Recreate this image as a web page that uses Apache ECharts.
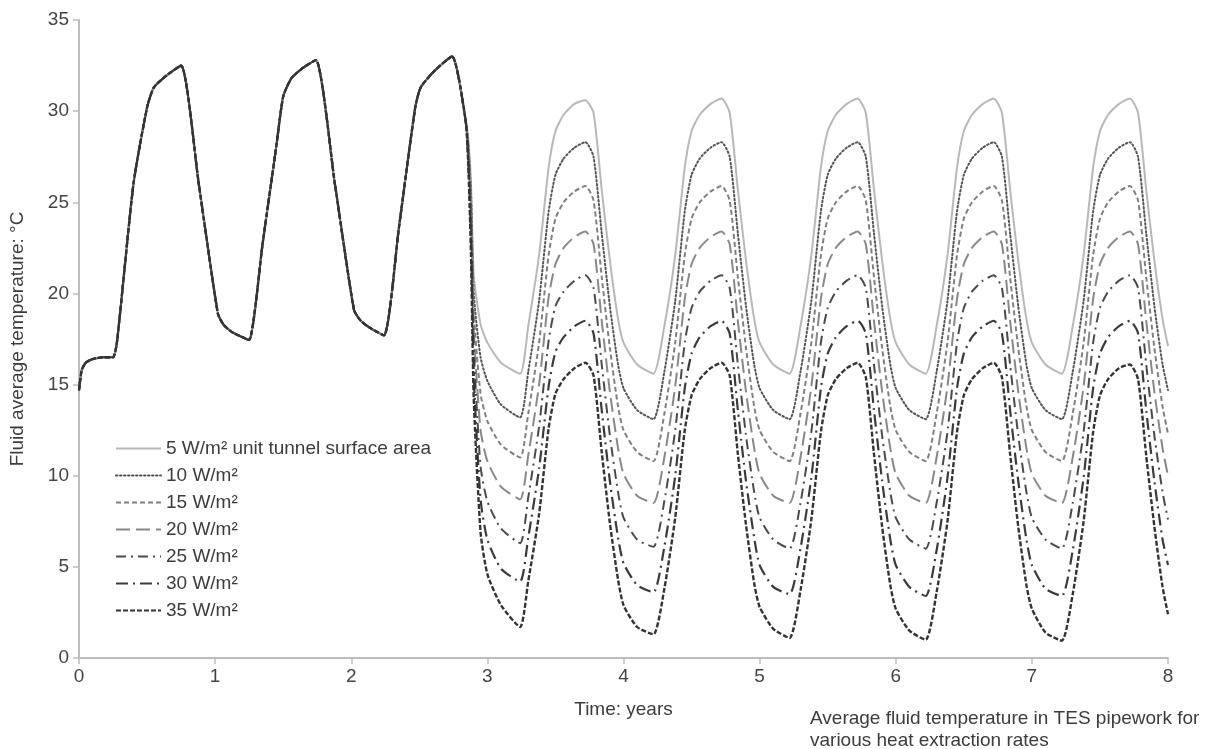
<!DOCTYPE html>
<html>
<head>
<meta charset="utf-8">
<title>Average fluid temperature in TES pipework</title>
<script src="https://cdn.jsdelivr.net/npm/echarts@6/dist/echarts.min.js"></script>
<style>
    html, body { margin: 0; padding: 0; background: #ffffff; }
    #chart { width: 1212px; height: 749px; }
</style>
</head>
<body>
<div id="chart"></div>
<script>
// 前三年所有曲线重合
const sharedYears = [0, 0.02, 0.05, 0.1, 0.18, 0.25, 0.28, 0.4, 0.5, 0.55, 0.65, 0.75, 0.88, 1.02, 1.06, 1.12, 1.2, 1.25,
    1.35, 1.45, 1.5, 1.56, 1.65, 1.74, 1.88, 2.02, 2.07, 2.14, 2.24, 2.35, 2.47, 2.51, 2.61, 2.74, 2.84];
const sharedTemps = [14.7, 15.8, 16.2, 16.4, 16.5, 16.5, 17.4, 26.0, 30.2, 31.3, 32.0, 32.5, 26.0, 18.9, 18.3, 17.9, 17.6, 17.45,
    22.8, 28.1, 30.8, 31.8, 32.4, 32.8, 26.0, 19.1, 18.5, 18.1, 17.7, 23.6, 30.2, 31.3, 32.2, 33.0, 29.5];

// 分叉之后的时间点
const tailYears = [2.86, 2.88, 2.9, 2.95, 3.0, 3.1, 3.24,
    3.3, 3.38, 3.45, 3.5, 3.56, 3.64, 3.72, 3.78, 3.84, 3.9, 3.96, 4.0, 4.1, 4.22,
    4.3, 4.38, 4.45, 4.5, 4.56, 4.64, 4.72, 4.78, 4.84, 4.9, 4.96, 5.0, 5.1, 5.22,
    5.3, 5.38, 5.45, 5.5, 5.56, 5.64, 5.72, 5.78, 5.84, 5.9, 5.96, 6.0, 6.1, 6.22,
    6.3, 6.38, 6.45, 6.5, 6.56, 6.64, 6.72, 6.78, 6.84, 6.9, 6.96, 7.0, 7.1, 7.22,
    7.3, 7.38, 7.45, 7.5, 7.56, 7.64, 7.72, 7.78, 7.84, 7.9, 7.96, 8.0];

const temps5 = [28.5, 26.0, 21.0, 18.3, 17.3, 16.2, 15.6,
    18.2, 22.1, 26.9, 28.9, 29.8, 30.4, 30.6, 29.9, 25.7, 21.8, 18.6, 17.3, 16.1, 15.6,
    18.2, 22.1, 26.9, 28.9, 29.8, 30.4, 30.7, 29.9, 25.7, 21.8, 18.6, 17.3, 16.1, 15.6,
    18.2, 22.1, 26.9, 28.9, 29.8, 30.4, 30.7, 29.9, 25.7, 21.8, 18.6, 17.3, 16.1, 15.6,
    18.2, 22.1, 26.9, 28.9, 29.8, 30.4, 30.7, 29.9, 25.7, 21.8, 18.6, 17.3, 16.1, 15.6,
    18.2, 22.1, 26.9, 28.9, 29.8, 30.4, 30.7, 29.9, 25.7, 21.8, 18.6, 17.1];
const temps10 = [28.2, 25.5, 20.0, 16.5, 15.2, 13.9, 13.2,
    15.7, 19.6, 24.5, 26.5, 27.4, 28.0, 28.3, 27.5, 23.3, 19.3, 16.1, 14.8, 13.6, 13.1,
    15.7, 19.6, 24.5, 26.5, 27.4, 28.0, 28.3, 27.5, 23.3, 19.3, 16.1, 14.8, 13.6, 13.1,
    15.7, 19.6, 24.5, 26.5, 27.4, 28.0, 28.3, 27.5, 23.3, 19.3, 16.1, 14.8, 13.6, 13.1,
    15.7, 19.6, 24.5, 26.5, 27.4, 28.0, 28.3, 27.5, 23.3, 19.3, 16.1, 14.8, 13.6, 13.1,
    15.7, 19.6, 24.5, 26.5, 27.4, 28.0, 28.3, 27.5, 23.3, 19.3, 16.1, 14.7];
const temps15 = [28.0, 25.0, 19.0, 14.5, 13.0, 11.7, 11.0,
    13.4, 17.3, 22.1, 24.1, 25.0, 25.6, 25.9, 25.1, 20.9, 17.0, 13.8, 12.5, 11.3, 10.8,
    13.4, 17.3, 22.1, 24.1, 25.0, 25.6, 25.9, 25.1, 20.9, 17.0, 13.8, 12.5, 11.3, 10.8,
    13.4, 17.3, 22.1, 24.1, 25.0, 25.6, 25.9, 25.1, 20.9, 17.0, 13.8, 12.5, 11.3, 10.8,
    13.4, 17.3, 22.1, 24.1, 25.0, 25.6, 25.9, 25.1, 20.9, 17.0, 13.8, 12.5, 11.3, 10.8,
    13.4, 17.3, 22.1, 24.1, 25.0, 25.6, 25.9, 25.1, 20.9, 17.0, 13.8, 12.3];
const temps20 = [27.8, 24.5, 18.0, 12.5, 10.8, 9.4, 8.7,
    11.1, 15.0, 19.8, 21.6, 22.5, 23.1, 23.4, 22.7, 18.5, 14.6, 11.5, 10.1, 8.9, 8.5,
    11.0, 14.9, 19.7, 21.6, 22.5, 23.1, 23.4, 22.7, 18.5, 14.6, 11.5, 10.1, 8.9, 8.5,
    11.0, 14.9, 19.7, 21.6, 22.5, 23.1, 23.4, 22.7, 18.5, 14.6, 11.5, 10.1, 8.9, 8.5,
    11.0, 14.9, 19.7, 21.6, 22.5, 23.1, 23.4, 22.7, 18.5, 14.6, 11.5, 10.1, 8.9, 8.5,
    11.0, 14.9, 19.7, 21.6, 22.5, 23.1, 23.4, 22.7, 18.5, 14.6, 11.5, 10.0];
const temps25 = [27.5, 24.0, 17.0, 10.5, 8.6, 7.1, 6.3,
    8.8, 12.7, 17.4, 19.3, 20.1, 20.7, 21.0, 20.3, 16.1, 12.2, 9.1, 7.7, 6.5, 6.1,
    8.6, 12.5, 17.3, 19.2, 20.1, 20.7, 21.0, 20.3, 16.1, 12.2, 9.1, 7.7, 6.5, 6.0,
    8.5, 12.4, 17.3, 19.2, 20.1, 20.7, 21.0, 20.3, 16.1, 12.2, 9.1, 7.7, 6.5, 6.0,
    8.5, 12.4, 17.3, 19.2, 20.1, 20.7, 21.0, 20.3, 16.1, 12.2, 9.1, 7.7, 6.5, 6.0,
    8.5, 12.4, 17.3, 19.2, 20.1, 20.7, 21.0, 20.3, 16.1, 12.2, 9.1, 7.6];
const temps30 = [27.2, 23.0, 15.5, 8.7, 6.5, 4.9, 4.2,
    6.6, 10.4, 14.9, 16.8, 17.6, 18.2, 18.5, 17.8, 13.6, 9.7, 6.6, 5.2, 4.0, 3.6,
    6.1, 10.0, 14.8, 16.7, 17.6, 18.2, 18.5, 17.8, 13.6, 9.7, 6.6, 5.1, 3.9, 3.5,
    6.0, 9.9, 14.8, 16.7, 17.6, 18.2, 18.5, 17.8, 13.6, 9.7, 6.5, 5.1, 3.9, 3.4,
    5.9, 9.9, 14.8, 16.7, 17.6, 18.2, 18.5, 17.8, 13.6, 9.7, 6.5, 5.1, 3.8, 3.4,
    5.9, 9.9, 14.8, 16.7, 17.6, 18.2, 18.5, 17.8, 13.6, 9.7, 6.5, 5.1];
const temps35 = [27.0, 22.0, 14.2, 6.9, 4.6, 2.9, 1.7,
    4.2, 7.9, 12.6, 14.5, 15.3, 15.9, 16.2, 15.5, 11.3, 7.4, 4.3, 2.9, 1.7, 1.3,
    3.8, 7.7, 12.5, 14.4, 15.3, 15.9, 16.2, 15.5, 11.2, 7.3, 4.1, 2.8, 1.6, 1.1,
    3.7, 7.6, 12.4, 14.4, 15.3, 15.9, 16.2, 15.4, 11.2, 7.2, 4.0, 2.7, 1.5, 1.0,
    3.6, 7.5, 12.4, 14.4, 15.3, 15.9, 16.2, 15.4, 11.2, 7.2, 4.0, 2.7, 1.4, 0.95,
    3.5, 7.5, 12.4, 14.4, 15.3, 15.9, 16.1, 15.3, 11.1, 7.2, 3.9, 2.4];

const seriesNames = ['5 W/m² unit tunnel surface area', '10 W/m²', '15 W/m²', '20 W/m²', '25 W/m²', '30 W/m²', '35 W/m²'];
const seriesTemps = [temps5, temps10, temps15, temps20, temps25, temps30, temps35];
const yTicks = [0, 5, 10, 15, 20, 25, 30, 35];
const xTicks = [0, 1, 2, 3, 4, 5, 6, 7, 8];

// 各曲线线型
const lineStyles = [
    { color: '#b8b8b8', width: 2, type: 'solid' },
    { color: '#555555', width: 2, type: [1.5, 2.5], cap: 'round' },
    { color: '#808080', width: 2, type: [5, 3] },
    { color: '#888888', width: 2, type: [14, 6] },
    { color: '#4a4a4a', width: 2, type: [10, 5, 2, 5] },
    { color: '#3a3a3a', width: 2.2, type: [12, 5, 2, 5] },
    { color: '#333333', width: 2.4, type: [5, 2] }
];

function buildData(temps) {
    const xs = sharedYears.concat(tailYears);
    const ys = sharedTemps.concat(temps);
    return xs.map((x, i) => [x, ys[i]]);
}

function initChart() {
    const chart = echarts.init(document.getElementById('chart'));
    const fontFamily = '"Liberation Sans", Arial, sans-serif';
    const option = {
        animation: false,
        backgroundColor: '#ffffff',
        textStyle: { fontFamily: fontFamily },
        grid: {
            left: 78,
            right: 44,
            top: 20,
            bottom: 91
        },
        legend: {
            orient: 'vertical',
            left: 110,
            top: 434,
            itemWidth: 45,
            itemHeight: 14,
            itemGap: 8,
            itemStyle: { opacity: 0 },
            data: seriesNames,
            textStyle: {
                color: '#3c3c3c',
                fontSize: 19,
                lineHeight: 19,
                fontFamily: fontFamily
            }
        },
        xAxis: {
            type: 'value',
            min: 0,
            max: 8,
            interval: 1,
            name: 'Time: years',
            nameLocation: 'middle',
            nameGap: 42,
            nameTextStyle: { color: '#3c3c3c', fontSize: 19 },
            splitLine: { show: false },
            axisLine: { lineStyle: { color: '#bdbdbd', width: 2 } },
            axisTick: { show: true, length: 6, lineStyle: { color: '#bdbdbd', width: 1.5 } },
            axisLabel: {
                color: '#444444',
                fontSize: 19,
                margin: 9,
                formatter: function (v) { return xTicks.indexOf(v) >= 0 ? String(v) : ''; }
            }
        },
        yAxis: {
            type: 'value',
            min: 0,
            max: 35,
            interval: 5,
            name: 'Fluid average temperature: °C',
            nameLocation: 'middle',
            nameGap: 52,
            nameTextStyle: { color: '#3c3c3c', fontSize: 19 },
            splitLine: { show: false },
            axisLine: { show: true, lineStyle: { color: '#bdbdbd', width: 2 } },
            axisTick: { show: true, length: 6, lineStyle: { color: '#bdbdbd', width: 1.5 } },
            axisLabel: {
                color: '#444444',
                fontSize: 19,
                margin: 10,
                formatter: function (v) { return yTicks.indexOf(v) >= 0 ? String(v) : ''; }
            }
        },
        graphic: [{
            type: 'text',
            left: 810,
            top: 708,
            style: {
                text: 'Average fluid temperature in TES pipework for\nvarious heat extraction rates',
                fill: '#3c3c3c',
                font: '19px "Liberation Sans", Arial, sans-serif',
                lineHeight: 22
            }
        }],
        series: seriesNames.map((name, i) => ({
            name: name,
            type: 'line',
            symbol: 'none',
            smooth: 0.2,
            z: 2 + i,
            lineStyle: lineStyles[i],
            itemStyle: { color: lineStyles[i].color },
            data: buildData(seriesTemps[i])
        }))
    };
    chart.setOption(option);
}

document.addEventListener('DOMContentLoaded', initChart);
</script>
</body>
</html>
